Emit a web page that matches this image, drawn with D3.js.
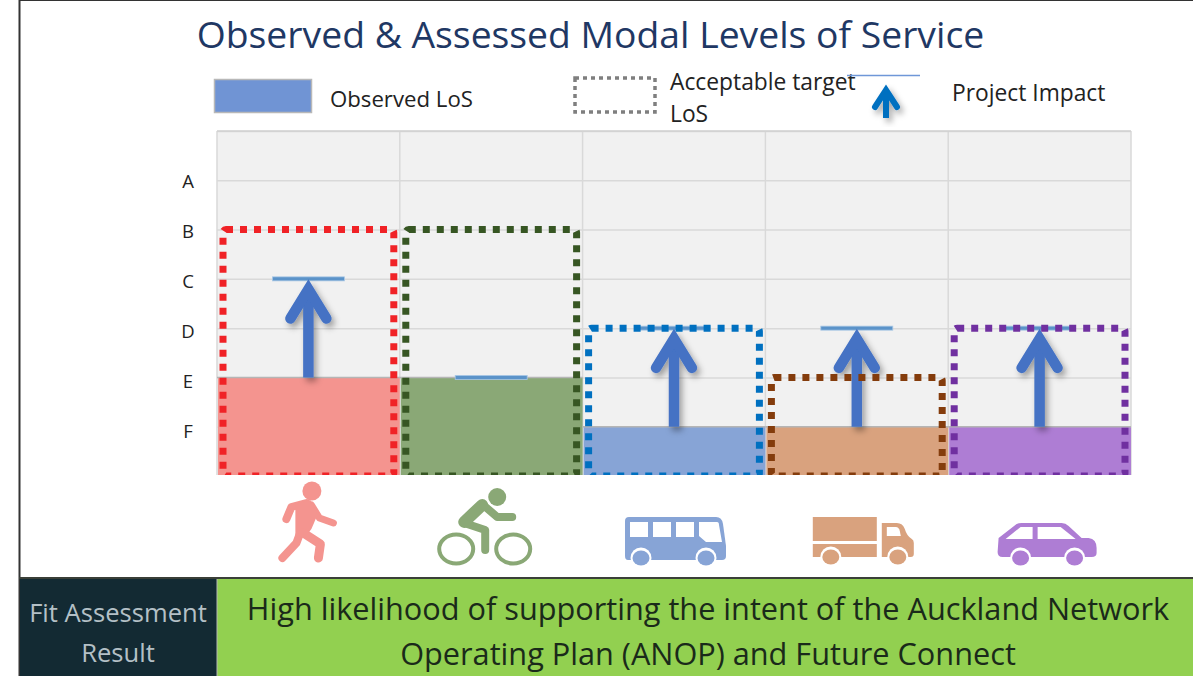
<!DOCTYPE html>
<html>
<head>
<meta charset="utf-8">
<script src="https://cdn.jsdelivr.net/npm/d3@7"></script>
<style>
    html, body { margin: 0; padding: 0; background: #fff; }
    svg { display: block; }
    text { font-family: "Open Sans", sans-serif; }
</style>
</head>
<body>
<svg id="chart" width="1193" height="676"></svg>
<script>
// level of service, F = 1 ... A = 6
const modes = ["Walking", "Cycling", "Public transport", "Freight", "General traffic"];
const observedLos = [2, 2, 1, 1, 1];
const targetLos = [5, 5, 3, 2, 3];
const impactLos = [4, 2, 3, 3, 3];
const levelLabels = ["F", "E", "D", "C", "B", "A"];
const levelValues = [1, 2, 3, 4, 5, 6];

const fillColors = ["#f4948f", "#8aa876", "#87a4d6", "#d9a27e", "#ae7dd4"];
const boxColors = ["#f02226", "#375623", "#0070c0", "#843c0c", "#7030a0"];

let svg = d3.select("#chart");

let x = d3.scaleBand().domain(modes).range([217, 1131]);
let y = d3.scaleLinear().domain([0, 7]).range([476, 131]);
// the level letters sit on a slightly wider spacing than the grid
let labelY = d3.scaleLinear().domain([1, 6]).range([432, 182]);

let defs = svg.append("defs");
let shadow = defs.append("filter").attr("id", "shadow")
    .attr("x", "-40%").attr("y", "-20%").attr("width", "200%").attr("height", "150%");
shadow.append("feDropShadow")
    .attr("dx", 3).attr("dy", 4).attr("stdDeviation", 3)
    .attr("flood-color", "#000").attr("flood-opacity", 0.35);
defs.append("clipPath").attr("id", "plotClip").append("rect")
    .attr("x", 217).attr("y", 131).attr("width", 914).attr("height", 344);

// page frame
svg.append("line").attr("x1", 19.5).attr("x2", 19.5).attr("y1", 0).attr("y2", 676)
    .attr("stroke", "#333").attr("stroke-width", 2);
svg.append("line").attr("x1", 19).attr("x2", 1193).attr("y1", 0.5).attr("y2", 0.5)
    .attr("stroke", "#333").attr("stroke-width", 1);

svg.append("text").attr("x", 590.5).attr("y", 48)
    .attr("text-anchor", "middle").attr("font-size", 37.3).attr("fill", "#1f3864")
    .text("Observed & Assessed Modal Levels of Service");

// legend
svg.append("rect").attr("x", 214.5).attr("y", 79.5).attr("width", 97).attr("height", 33)
    .attr("fill", "#7094d4").attr("stroke", "#b8b8b8").attr("stroke-width", 1.5);
svg.append("text").attr("x", 330).attr("y", 107).attr("font-size", 22.2).attr("fill", "#222")
    .text("Observed LoS");
svg.append("rect").attr("x", 575).attr("y", 78).attr("width", 80).attr("height", 34)
    .attr("fill", "none").attr("stroke", "#7f7f7f").attr("stroke-width", 3.5)
    .attr("stroke-dasharray", "4 4");
svg.append("text").attr("x", 670).attr("y", 90).attr("font-size", 22.8).attr("fill", "#222")
    .text("Acceptable target");
svg.append("text").attr("x", 670).attr("y", 122).attr("font-size", 22.8).attr("fill", "#222")
    .text("LoS");
svg.append("line").attr("x1", 847).attr("x2", 920).attr("y1", 75.5).attr("y2", 75.5)
    .attr("stroke", "#6f97d8").attr("stroke-width", 1.5);
svg.append("text").attr("x", 952).attr("y", 101).attr("font-size", 22.8).attr("fill", "#222")
    .text("Project Impact");

// plot background and grid
svg.append("rect").attr("x", 217).attr("y", 131).attr("width", 914).attr("height", 344)
    .attr("fill", "#f1f1f1");

let gridAxis = d3.axisLeft(y)
    .tickValues([1, 2, 3, 4, 5, 6, 7])
    .tickSize(-914)
    .tickFormat("");
let gridG = svg.append("g").attr("transform", "translate(217,0)").call(gridAxis);
gridG.select(".domain").remove();
gridG.selectAll("line").attr("stroke", "#d9d9d9").attr("stroke-width", 1.5);

svg.append("g").selectAll("line")
    .data(modes.concat(["end"]))
    .join("line")
    .attr("x1", function (d) { return d === "end" ? 1131 : x(d); })
    .attr("x2", function (d) { return d === "end" ? 1131 : x(d); })
    .attr("y1", 131).attr("y2", 475)
    .attr("stroke", "#d9d9d9").attr("stroke-width", 1.5);
svg.append("line").attr("x1", 217).attr("x2", 1131).attr("y1", 131).attr("y2", 131)
    .attr("stroke", "#d0d0d0").attr("stroke-width", 1.5);

// level labels
let levelAxis = d3.axisLeft(labelY)
    .tickValues(levelValues)
    .tickSize(0)
    .tickFormat(function (d) { return levelLabels[d - 1]; });
let levelG = svg.append("g").attr("transform", "translate(217,0)").call(levelAxis);
levelG.select(".domain").remove();
levelG.selectAll("text")
    .attr("font-family", "Open Sans")
    .attr("font-size", 18.5).attr("fill", "#222")
    .attr("text-anchor", "middle")
    .attr("x", -29);

// observed bars
svg.append("g").attr("clip-path", "url(#plotClip)").selectAll("rect")
    .data(modes)
    .join("rect")
    .attr("x", function (d) { return x(d) + 1; })
    .attr("width", x.bandwidth() - 1)
    .attr("y", function (d, i) { return y(observedLos[i]); })
    .attr("height", function (d, i) { return y(0) - y(observedLos[i]); })
    .attr("fill", function (d, i) { return fillColors[i]; });

svg.append("g").selectAll("line")
    .data(modes)
    .join("line")
    .attr("x1", function (d) { return x(d); })
    .attr("x2", function (d) { return x(d) + x.bandwidth(); })
    .attr("y1", function (d, i) { return y(observedLos[i]); })
    .attr("y2", function (d, i) { return y(observedLos[i]); })
    .attr("stroke", "#b5b5b5").attr("stroke-width", 1.5);

// project impact dashes
svg.append("g").selectAll("rect")
    .data(modes)
    .join("rect")
    .attr("x", function (d) { return x(d) + x.bandwidth() / 2 - 36; })
    .attr("width", 72)
    .attr("y", function (d, i) { return y(impactLos[i]) - 2; })
    .attr("height", 4)
    .attr("fill", "#5b93c9")
    .attr("stroke", "#a9c8e6").attr("stroke-width", 0.8);

// arrows, where the project changes the level
modes.forEach(function (d, i) {
    if (impactLos[i] === observedLos[i]) {
        return;
    }
    let cx = x(d) + x.bandwidth() / 2;
    drawArrow(svg.append("g"), cx, y(impactLos[i]), y(observedLos[i]), 18, 45, 10.5, "#4472c4");
});

// legend arrow
drawArrow(svg.append("g"), 886, 84, 118, 11, 26, 6, "#0070c0");

// acceptable target boxes
svg.append("g").attr("clip-path", "url(#plotClip)").selectAll("rect")
    .data(modes)
    .join("rect")
    .attr("x", function (d) { return x(d) + 6; })
    .attr("width", x.bandwidth() - 12)
    .attr("y", function (d, i) { return y(targetLos[i]); })
    .attr("height", function (d, i) { return y(0) - y(targetLos[i]); })
    .attr("rx", 3)
    .attr("fill", "none")
    .attr("stroke", function (d, i) { return boxColors[i]; })
    .attr("stroke-width", 7)
    .attr("stroke-dasharray", "7 7");

// mode icons
drawWalker(svg.append("g").attr("transform", "translate(" + (x(modes[0]) + x.bandwidth() / 2) + ",525)"), fillColors[0]);
drawCyclist(svg.append("g").attr("transform", "translate(" + (x(modes[1]) + x.bandwidth() / 2) + ",525)"), fillColors[1]);
drawBus(svg.append("g").attr("transform", "translate(" + (x(modes[2]) + x.bandwidth() / 2) + ",538)"), fillColors[2]);
drawTruck(svg.append("g").attr("transform", "translate(" + (x(modes[3]) + x.bandwidth() / 2) + ",538)"), fillColors[3]);
drawCar(svg.append("g").attr("transform", "translate(" + (x(modes[4]) + x.bandwidth() / 2) + ",540)"), fillColors[4]);

// result strip
svg.append("rect").attr("x", 20).attr("y", 579).attr("width", 197).attr("height", 97).attr("fill", "#132a33");
svg.append("rect").attr("x", 217).attr("y", 579).attr("width", 976).attr("height", 97).attr("fill", "#92d050");
svg.append("line").attr("x1", 19).attr("x2", 1193).attr("y1", 578).attr("y2", 578)
    .attr("stroke", "#3a3f38").attr("stroke-width", 2);
svg.append("line").attr("x1", 217).attr("x2", 217).attr("y1", 579).attr("y2", 676)
    .attr("stroke", "#b5b5b5").attr("stroke-width", 1);

svg.append("text").attr("x", 118).attr("y", 622).attr("text-anchor", "middle")
    .attr("font-size", 25.6).attr("fill", "#b4c0c6").text("Fit Assessment");
svg.append("text").attr("x", 118).attr("y", 662).attr("text-anchor", "middle")
    .attr("font-size", 25.6).attr("fill", "#b4c0c6").text("Result");
svg.append("text").attr("x", 708).attr("y", 620).attr("text-anchor", "middle")
    .attr("font-size", 30.7).attr("fill", "#1a2a1a")
    .text("High likelihood of supporting the intent of the Auckland Network");
svg.append("text").attr("x", 708).attr("y", 665).attr("text-anchor", "middle")
    .attr("font-size", 30.7).attr("fill", "#1a2a1a")
    .text("Operating Plan (ANOP) and Future Connect");

function drawArrow(g, cx, tipY, baseY, halfHead, headLen, weight, color) {
    g.attr("filter", "url(#shadow)");
    g.append("line")
        .attr("x1", cx).attr("x2", cx)
        .attr("y1", tipY + headLen * 0.3).attr("y2", baseY)
        .attr("stroke", color).attr("stroke-width", weight);
    g.append("path")
        .attr("d", d3.line()([[cx - halfHead, tipY + headLen - weight / 2], [cx, tipY + weight], [cx + halfHead, tipY + headLen - weight / 2]]))
        .attr("fill", "none")
        .attr("stroke", color).attr("stroke-width", weight)
        .attr("stroke-linecap", "round").attr("stroke-linejoin", "miter");
}

function strokePath(g, points, width, color) {
    g.append("path")
        .attr("d", d3.line()(points))
        .attr("fill", "none")
        .attr("stroke", color).attr("stroke-width", width)
        .attr("stroke-linecap", "round").attr("stroke-linejoin", "round");
}

function drawWalker(g, color) {
    g.append("circle").attr("cx", 3.5).attr("cy", -34).attr("r", 9.5).attr("fill", color);
    strokePath(g, [[-22, -6], [-17, -18], [-2, -22]], 8, color);
    strokePath(g, [[3, -20], [11, -7], [25, -2]], 7, color);
    g.append("path")
        .attr("d", "M-13,-20 L2,-25 L9,-10 L3,4 L-3,12 L-13,12 Z")
        .attr("fill", color);
    strokePath(g, [[-9, 10], [-12, 18], [-26, 33]], 8, color);
    strokePath(g, [[-5, 8], [12, 19], [10, 33]], 9, color);
}

function drawCyclist(g, color) {
    g.append("circle").attr("cx", 6).attr("cy", -28).attr("r", 9).attr("fill", color);
    g.append("ellipse").attr("cx", -35).attr("cy", 24).attr("rx", 17).attr("ry", 14.5)
        .attr("fill", "none").attr("stroke", color).attr("stroke-width", 4);
    g.append("ellipse").attr("cx", 22).attr("cy", 24).attr("rx", 17).attr("ry", 14.5)
        .attr("fill", "none").attr("stroke", color).attr("stroke-width", 4);
    strokePath(g, [[-9, -20], [-27, -3]], 12, color);
    strokePath(g, [[-27, -2], [-6, 5], [-6, 25]], 8, color);
    strokePath(g, [[-8, -20], [6, -8], [21, -8]], 8, color);
}

function drawBus(g, color) {
    g.append("path")
        .attr("d", "M-49,-17 Q-49,-21 -45,-21 L42,-21 Q48,-21 49,-14 L52,8 L52,18 Q52,22 48,22 L-46,22 Q-49,22 -49,18 Z")
        .attr("fill", color);
    [[-44, -16, 18, 15], [-21, -16, 18, 15], [2, -16, 18, 15]].forEach(function (w) {
        g.append("rect").attr("x", w[0]).attr("y", w[1]).attr("width", w[2]).attr("height", w[3]).attr("fill", "#fff");
    });
    g.append("path").attr("d", "M25,-16 L43,-16 Q45,-16 45,-13 L48,4 L32,4 L25,-2 Z").attr("fill", "#fff");
    [-33, 32].forEach(function (cx) {
        g.append("circle").attr("cx", cx).attr("cy", 20).attr("r", 10.5).attr("fill", "#fff");
        g.append("ellipse").attr("cx", cx).attr("cy", 20).attr("rx", 8.5).attr("ry", 7.5).attr("fill", color);
    });
}

function drawTruck(g, color) {
    g.append("rect").attr("x", -44).attr("y", -21).attr("width", 64).attr("height", 24).attr("fill", color);
    g.append("rect").attr("x", -44).attr("y", 6).attr("width", 64).attr("height", 13).attr("fill", color);
    g.append("path")
        .attr("d", "M25,-15 L40,-15 Q46,-15 48,-9 Q50,-2 55,1 Q57,2 57,5 L57,16 Q57,19 54,19 L25,19 Z")
        .attr("fill", color);
    g.append("path").attr("d", "M30,-11 L39,-11 Q42,-11 43,-7 L44,-2 L30,-2 Z").attr("fill", "#fff");
    [-26, 41].forEach(function (cx) {
        g.append("circle").attr("cx", cx).attr("cy", 19).attr("r", 10.5).attr("fill", "#fff");
        g.append("ellipse").attr("cx", cx).attr("cy", 19).attr("rx", 8.5).attr("ry", 7.5).attr("fill", color);
    });
}

function drawCar(g, color) {
    g.append("path")
        .attr("d", "M-41,-2 L-23,-16 Q-21,-17 -18,-17 L22,-17 Q26,-17 29,-14 L42,-2 L49,-2 Q57,-1 57,8 L57,13 Q57,17 52,17 L-37,17 Q-42,17 -42,12 Z")
        .attr("fill", color);
    g.append("path").attr("d", "M-34,-1 L-19,-13 L-7,-13 L-7,-1 Z").attr("fill", "#fff");
    g.append("path").attr("d", "M-2,-13 L21,-13 L36,-1 L-2,-1 Z").attr("fill", "#fff");
    [-19, 35].forEach(function (cx) {
        g.append("circle").attr("cx", cx).attr("cy", 18).attr("r", 10.5).attr("fill", "#fff");
        g.append("ellipse").attr("cx", cx).attr("cy", 18).attr("rx", 8.5).attr("ry", 7.5).attr("fill", color);
    });
}
</script>
</body>
</html>
